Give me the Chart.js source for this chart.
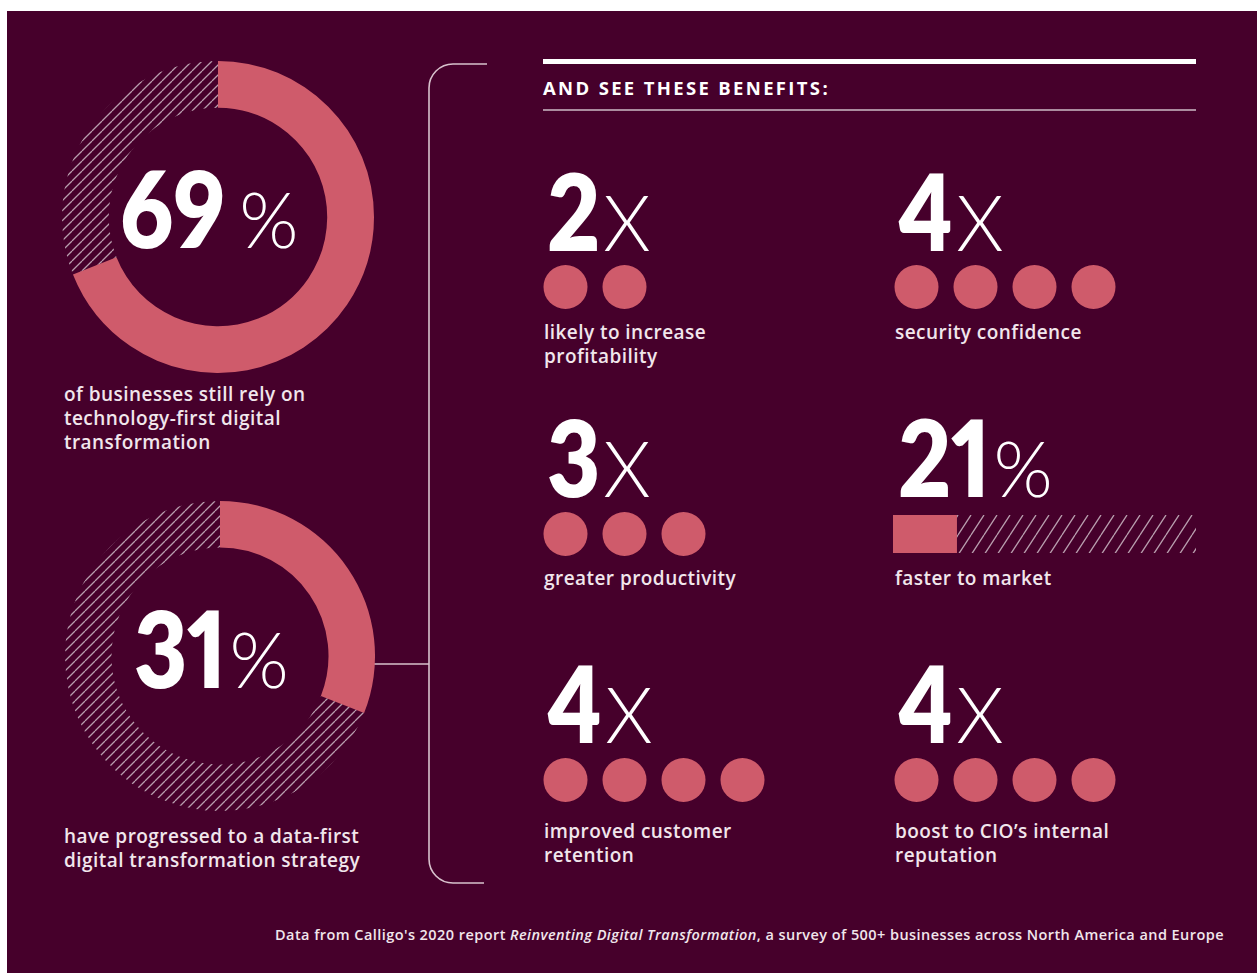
<!DOCTYPE html>
<html>
<head>
<meta charset="utf-8">
<title>Data-first digital transformation</title>
<script src="https://cdn.jsdelivr.net/npm/chart.js@4.4.1/dist/chart.umd.min.js"></script>
<style>
  html, body { margin: 0; padding: 0; background: #fff; }
  body { width: 1257px; height: 973px; position: relative; overflow: hidden; font-family: "Open Sans", Lato, sans-serif; }
  #board { position: absolute; left: 7px; top: 11px; right: 0; bottom: 0; background: #46002b; }
  .abs { position: absolute; }
  canvas.abs { display: block; }
  .big { color: #fff; font-family: Lato, sans-serif; font-weight: 800; font-size: 107px; line-height: 1; white-space: nowrap; font-variant-numeric: proportional-nums; }
  .big .num { display: inline-block; transform: scaleX(0.86); transform-origin: 0 0; }
  .big .unit { font-weight: 300; font-size: 76px; margin-left: 3px; }
  .caption { color: #f1e6ec; font-weight: 600; font-size: 19px; line-height: 24px; letter-spacing: 0.45px; white-space: nowrap; }
  .rule-thick { background: #fff; height: 5px; }
  .rule-thin { background: rgba(255, 255, 255, 0.55); height: 2px; }
  .heading { color: #fff; font-weight: 700; font-size: 18.5px; line-height: 24px; white-space: nowrap; }
  .source { color: #f1e6ec; font-weight: 600; font-size: 14.5px; line-height: 18px; white-space: nowrap; }
</style>
</head>
<body>
<div id="board"></div>

<svg class="abs" width="1257" height="973" style="left:0;top:0">
  <g fill="none" stroke="#d8c2cd" stroke-width="1.6">
    <path d="M 487 64 H 453 A 24 24 0 0 0 429 88 V 859 A 24 24 0 0 0 453 883 H 484"/>
    <path d="M 373 664 H 429"/>
  </g>
</svg>

<div class="abs rule-thick" style="left:543px;top:59px;width:653px"></div>
<div class="abs heading" id="heading" style="left:543px">AND SEE THESE BENEFITS:</div>
<div class="abs rule-thin" style="left:543px;top:109px;width:653px"></div>

<div class="abs source" id="source" style="left:275px">Data from Calligo's 2020 report <i>Reinventing Digital Transformation</i>, a survey of 500+ businesses across North America and Europe</div>

<script>
// Share of surveyed businesses by transformation approach
const shareValues = [69, 31];
const shareCaptions = [
  ['of businesses still rely on', 'technology-first digital', 'transformation'],
  ['have progressed to a data-first', 'digital transformation strategy']
];

// "N times" benefits, one dot per multiple
const multipliers = [2, 4, 3, 4, 4];
const multiplierCaptions = [
  ['likely to increase', 'profitability'],
  ['security confidence'],
  ['greater productivity'],
  ['improved customer', 'retention'],
  ['boost to CIO\u2019s internal', 'reputation']
];

// Percentage benefit shown as a bar
const marketGain = 21;
const marketCaption = ['faster to market'];

const PINK = '#cf5b6b';

// layout: donut centres / radii, and the benefit grid
const donutSpots = [
  { cx: 218, cy: 217, r: 156, numX: 120, numBase: 248, unitGap: 14, capBase: 401 },
  { cx: 220, cy: 656, r: 155, numX: 134, numBase: 688, unitGap: 3, capBase: 843 }
];
const rows = [
  { numBase: 251, dotY: 287, capBase: 339 },
  { numBase: 497, dotY: 534, capBase: 585 },
  { numBase: 743, dotY: 780, capBase: 838 }
];
const colX = [543, 894];
// grid slots for the multiplier cards (col, row); the 21% card sits at col 1 row 1
const multiplierSlots = [[0, 0], [1, 0], [0, 1], [0, 2], [1, 2]];
const DOT_STEP = 59;
const DOT_R = 22;

// font line box metrics: [ascent, descent] in em
const LATO = [0.987, 0.213];
const OPEN = [1.069, 0.293];

function topForBaseline(baseline, size, lineHeight, m) {
  return baseline - ((lineHeight - (m[0] + m[1]) * size) / 2 + m[0] * size);
}

function addText(cls, x, top, html) {
  const el = document.createElement('div');
  el.className = 'abs ' + cls;
  el.style.left = x + 'px';
  el.style.top = top + 'px';
  el.innerHTML = html;
  document.body.appendChild(el);
  return el;
}

// spread letter spacing so a line of text spans a given width
function fitWidth(el, width) {
  const n = el.textContent.length;
  const w = el.getBoundingClientRect().width;
  el.style.letterSpacing = ((width - w) / n) + 'px';
}

function addBig(x, baseline, num, unit, gap) {
  const el = addText('big', x, topForBaseline(baseline, 107, 107, LATO),
    '<span class="num">' + num + '</span><span class="unit">' + unit + '</span>');
  const numEl = el.querySelector('.num');
  numEl.style.marginRight = (-(1 - 0.86) * numEl.offsetWidth) + 'px';
  if (gap !== undefined) el.querySelector('.unit').style.marginLeft = gap + 'px';
  return el;
}

function addCaption(x, baseline, lines) {
  return addText('caption', x, topForBaseline(baseline, 19, 24, OPEN), lines.join('<br>'));
}

function addCanvas(x, y, w, h) {
  const c = document.createElement('canvas');
  c.className = 'abs';
  c.width = w; c.height = h;
  c.style.left = x + 'px';
  c.style.top = y + 'px';
  c.style.width = w + 'px';
  c.style.height = h + 'px';
  document.body.appendChild(c);
  return c;
}

// diagonal hatch tile: lines rise from bottom-left to top-right
function hatch(step, rise, color, width) {
  const tile = document.createElement('canvas');
  tile.width = step; tile.height = rise;
  const g = tile.getContext('2d');
  g.strokeStyle = color;
  g.lineWidth = width;
  g.beginPath();
  for (const dx of [-step, 0, step]) {
    g.moveTo(dx, rise);
    g.lineTo(dx + step, 0);
  }
  g.stroke();
  return g.createPattern(tile, 'repeat');
}

const staticOpts = {
  responsive: false,
  animation: false,
  events: [],
  layout: { padding: 0, autoPadding: false },
  plugins: { legend: { display: false }, tooltip: { enabled: false } }
};

const heading = document.getElementById('heading');
heading.style.top = topForBaseline(95, 18.5, 24, OPEN) + 'px';
fitWidth(heading, 287);
const source = document.getElementById('source');
source.style.top = topForBaseline(941, 14.5, 18, OPEN) + 'px';
fitWidth(source, 949);

// ---- donuts ----
shareValues.forEach((v, i) => {
  const s = donutSpots[i];
  const size = s.r * 2;
  const cv = addCanvas(s.cx - s.r, s.cy - s.r, size, size);
  new Chart(cv, {
    type: 'doughnut',
    data: {
      labels: ['share', 'rest'],
      datasets: [{
        data: [v, 100 - v],
        backgroundColor: [PINK, hatch(10, 10, 'rgba(255,255,255,0.62)', 1.3)],
        borderWidth: 0,
        offset: 0,
        hoverOffset: 0
      }]
    },
    options: { ...staticOpts, cutout: '70%' }
  });
  addBig(s.numX, s.numBase, v, '%', s.unitGap);
  addCaption(64, s.capBase, shareCaptions[i]);
});

// ---- multiplier cards ----
multipliers.forEach((n, i) => {
  const [c, r] = multiplierSlots[i];
  const x = colX[c];
  const row = rows[r];
  addBig(x + 4, row.numBase, n, 'X');
  const w = n * DOT_STEP;
  const h = 48;
  const cv = addCanvas(x + DOT_R - DOT_STEP / 2, row.dotY - h / 2, w, h);
  const pts = [];
  for (let k = 1; k <= n; k++) pts.push({ x: k, y: 0 });
  new Chart(cv, {
    type: 'scatter',
    data: {
      datasets: [{
        data: pts,
        pointRadius: DOT_R,
        pointHoverRadius: DOT_R,
        pointBackgroundColor: PINK,
        pointBorderWidth: 0,
        clip: false
      }]
    },
    options: {
      ...staticOpts,
      scales: {
        x: { display: false, min: 0.5, max: n + 0.5 },
        y: { display: false, min: -1, max: 1 }
      }
    }
  });
  addCaption(x + 1, row.capBase, multiplierCaptions[i]);
});

// ---- 21% faster to market ----
(function () {
  const x = colX[1];
  const row = rows[1];
  addBig(x + 4, row.numBase, marketGain, '%');
  const cv = addCanvas(x - 1, 515, 303, 38);
  new Chart(cv, {
    type: 'bar',
    data: {
      labels: ['market'],
      datasets: [
        { data: [marketGain], backgroundColor: PINK, borderWidth: 0 },
        { data: [100 - marketGain], backgroundColor: hatch(13, 20, 'rgba(255,255,255,0.62)', 1.3), borderWidth: 0 }
      ]
    },
    options: {
      ...staticOpts,
      indexAxis: 'y',
      datasets: { bar: { barPercentage: 1, categoryPercentage: 1 } },
      scales: {
        x: { display: false, stacked: true, min: 0, max: 100 },
        y: { display: false, stacked: true }
      }
    }
  });
  addCaption(x + 1, row.capBase, marketCaption);
})();
</script>
</body>
</html>
